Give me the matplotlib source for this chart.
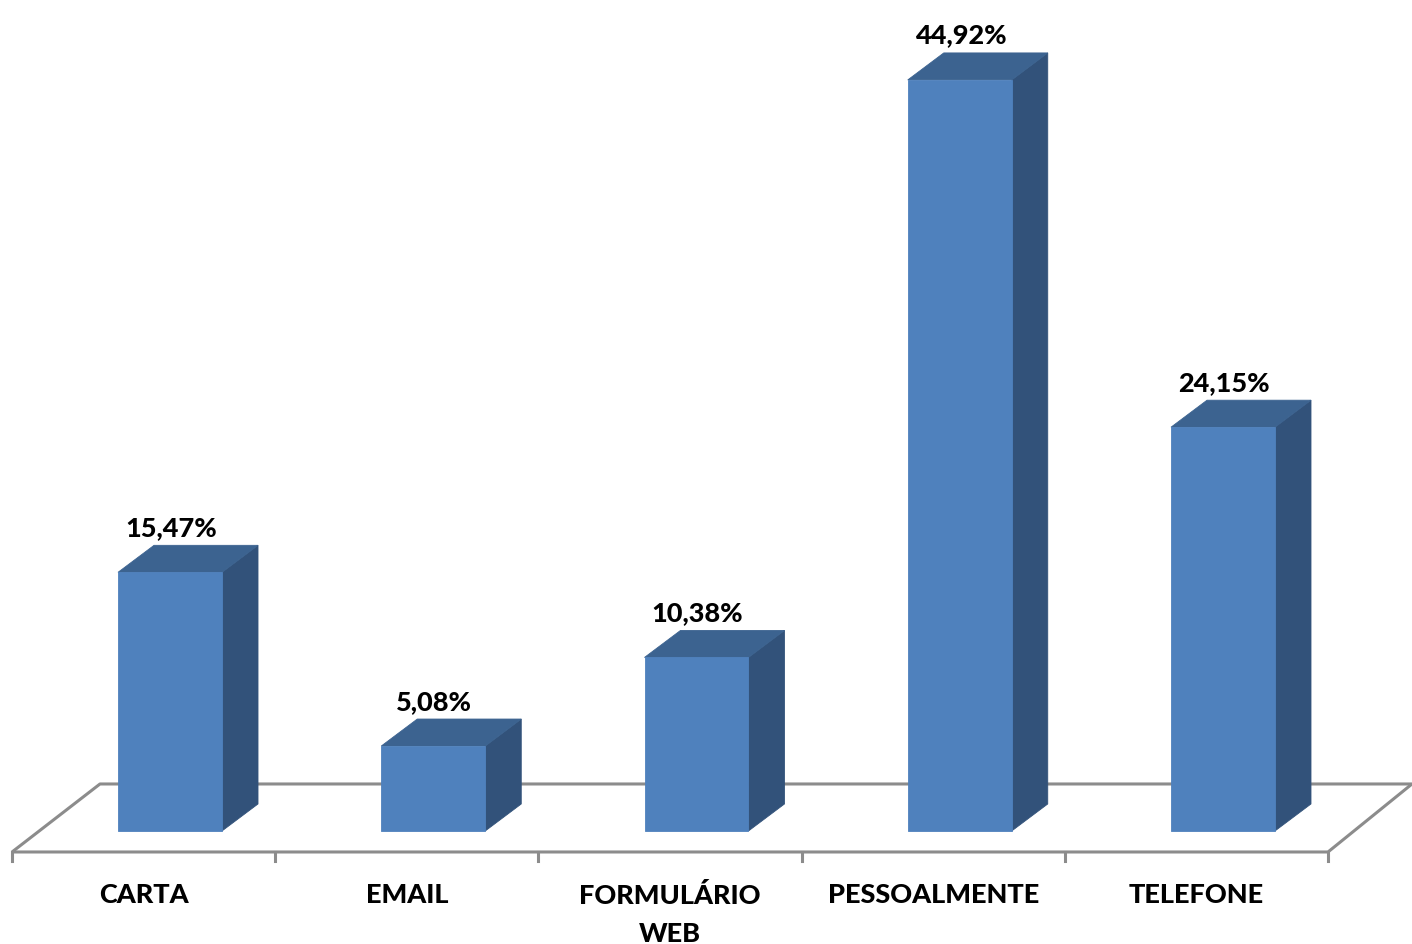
import numpy as np
import matplotlib.pyplot as plt
from matplotlib.patches import Polygon

categorias = ['CARTA', 'EMAIL', 'FORMULÁRIO\nWEB', 'PESSOALMENTE', 'TELEFONE']
valores = [15.47, 5.08, 10.38, 44.92, 24.15]
rotulos = ['15,47%', '5,08%', '10,38%', '44,92%', '24,15%']

# cores estilo excel 3d
cor_frente = '#4F81BD'
cor_lado = '#32527A'
cor_topo = '#3C6390'
cor_chao = '#8C8C8C'

fig = plt.figure(figsize=(14.12, 9.45), dpi=100)
ax = fig.add_axes([0, 0, 1, 1])
ax.set_xlim(-0.6458, 4.718)
ax.set_ylim(-6.76, 49.76)
ax.axis('off')

larg = 0.395          # largura da barra
dx, dy = 0.1368, 1.615  # profundidade da barra
# chao
fy, by = -1.256, 2.811
fl, fr = -0.600, 4.399
bl, br = -0.266, 4.718
lw = 2.2
ax.plot([fl, bl, br], [fy, by, by], color=cor_chao, lw=lw, zorder=1, solid_capstyle='butt')
ax.plot([fl, fr, br], [fy, fy, by], color=cor_chao, lw=lw, zorder=1, solid_capstyle='butt')
passo = (fr - fl) / len(valores)
for k in range(len(valores) + 1):
    xt = fl + k * passo
    ax.plot([xt, xt], [fy, fy - 0.55], color=cor_chao, lw=lw, zorder=1)

fonte = dict(fontsize=19.5, fontweight=900, family='Lato')
for i, v in enumerate(valores):
    x0, x1 = i - larg / 2, i + larg / 2
    frente = Polygon([(x0, 0), (x1, 0), (x1, v), (x0, v)], closed=True,
                     facecolor=cor_frente, edgecolor=cor_frente, lw=0.6, zorder=3)
    lado = Polygon([(x1, 0), (x1 + dx, dy), (x1 + dx, v + dy), (x1, v)], closed=True,
                   facecolor=cor_lado, edgecolor=cor_lado, lw=0.6, zorder=3)
    topo = Polygon([(x0, v), (x1, v), (x1 + dx, v + dy), (x0 + dx, v + dy)], closed=True,
                   facecolor=cor_topo, edgecolor=cor_topo, lw=0.6, zorder=3)
    for p in (lado, topo, frente):
        ax.add_patch(p)
    ax.text(i + 0.004, v + dy + 1.1, rotulos[i], ha='center', va='center', zorder=4, **fonte)
    ax.text(fl + (i + 0.5) * passo, -3.07, categorias[i], ha='center', va='top',
            linespacing=1.68, **fonte)

fig.savefig('out.png', dpi=100)
